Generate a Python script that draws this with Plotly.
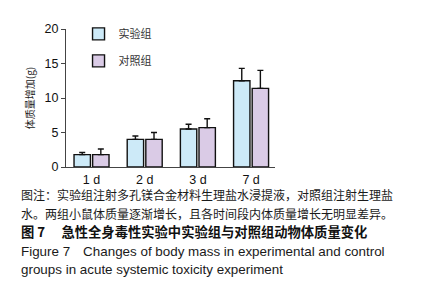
import plotly.graph_objects as go

categories = ["1 d", "2 d", "3 d", "7 d"]
exp_values = [1.8, 4.0, 5.5, 12.5]
exp_errors = [0.3, 0.5, 0.7, 1.8]
ctrl_values = [1.8, 4.0, 5.7, 11.4]
ctrl_errors = [0.8, 1.0, 1.3, 2.6]
series_names = ["实验组", "对照组"]
y_ticks = [0, 5, 10, 15, 20]
y_title = "体质量增加(g)"
caption_lines = [
    ("图注：实验组注射多孔镁合金材料生理盐水浸提液，对照组注射生理盐", "cjk"),
    ("水。两组小鼠体质量逐渐增长，且各时间段内体质量增长无明显差异。", "cjk"),
    ("<b>图 7　 急性全身毒性实验中实验组与对照组动物体质量变化</b>", "bold"),
    ("Figure 7　Changes of body mass in experimental and control", "eng"),
    ("groups in acute systemic toxicity experiment", "eng"),
]

CJK = "Noto Sans CJK SC"
ARIAL = "Liberation Sans, Arial"
fig = go.Figure()
fig.add_trace(go.Bar(
    x=categories, y=exp_values, name=series_names[0], legendgroup="a",
    marker=dict(color="#cdeaf8", line=dict(color="#111111", width=1.4)),
    error_y=dict(type="data", array=exp_errors, arrayminus=[0]*4, symmetric=False,
                 color="#111111", thickness=1.4, width=3),
))
fig.add_trace(go.Bar(
    x=categories, y=ctrl_values, name=series_names[1], legendgroup="b",
    marker=dict(color="#dacbe6", line=dict(color="#111111", width=1.4)),
    error_y=dict(type="data", array=ctrl_errors, arrayminus=[0]*4, symmetric=False,
                 color="#111111", thickness=1.4, width=3),
))

L, R, T, B = 66, 162, 29, 133
pw = 437 - L - R
ph = 300 - T - B

def px_to_paper_y(py):
    return (300 - B - py) / ph

def px_to_paper_x(px):
    return (px - L) / pw

styles = {
    "cjk": dict(family=CJK, size=12, color="#1a1a1a"),
    "bold": dict(family=CJK, size=13.3, color="#111111"),
    "eng": dict(family=ARIAL, size=13.4, color="#1a1a1a"),
}
annotations = []
ys = [194, 213, 232, 251, 269]
for (text, kind), py in zip(caption_lines, ys):
    annotations.append(dict(
        text=text, xref="paper", yref="paper", x=px_to_paper_x(19), y=px_to_paper_y(py),
        xanchor="left", yanchor="middle", showarrow=False, font=styles[kind],
    ))

fig.update_layout(
    width=437, height=300,
    margin=dict(l=L, r=R, t=T, b=B, pad=0, autoexpand=False),
    paper_bgcolor="white", plot_bgcolor="white",
    barmode="group", bargap=0.3, bargroupgap=0.12,
    showlegend=True,
    legend=dict(x=0.06, y=1.07, xanchor="left", yanchor="top",
                font=dict(family=CJK, size=11, color="#333333"),
                bgcolor="rgba(0,0,0,0)", traceorder="grouped", tracegroupgap=8),
    xaxis=dict(range=[-0.48, 3.45], showline=True, linecolor="#444444", linewidth=1.2,
               ticks="", tickfont=dict(family=ARIAL, size=12.5, color="#111111"),
               ticklabelstandoff=1,
               showgrid=False, zeroline=False),
    yaxis=dict(range=[0, 20], tickvals=y_ticks, showline=True, linecolor="#444444", linewidth=1.2,
               ticks="outside", ticklen=4, tickcolor="#444444",
               tickfont=dict(family=ARIAL, size=12.5, color="#111111"),
               showgrid=False, zeroline=False,
               title=dict(text=y_title, font=dict(family=CJK, size=10, color="#222222"), standoff=7)),
    annotations=annotations,
    font=dict(family=CJK),
)
fig.write_html("out.html", config={"displayModeBar": False},
               post_script="document.body.style.margin='0';document.body.style.padding='0';")
